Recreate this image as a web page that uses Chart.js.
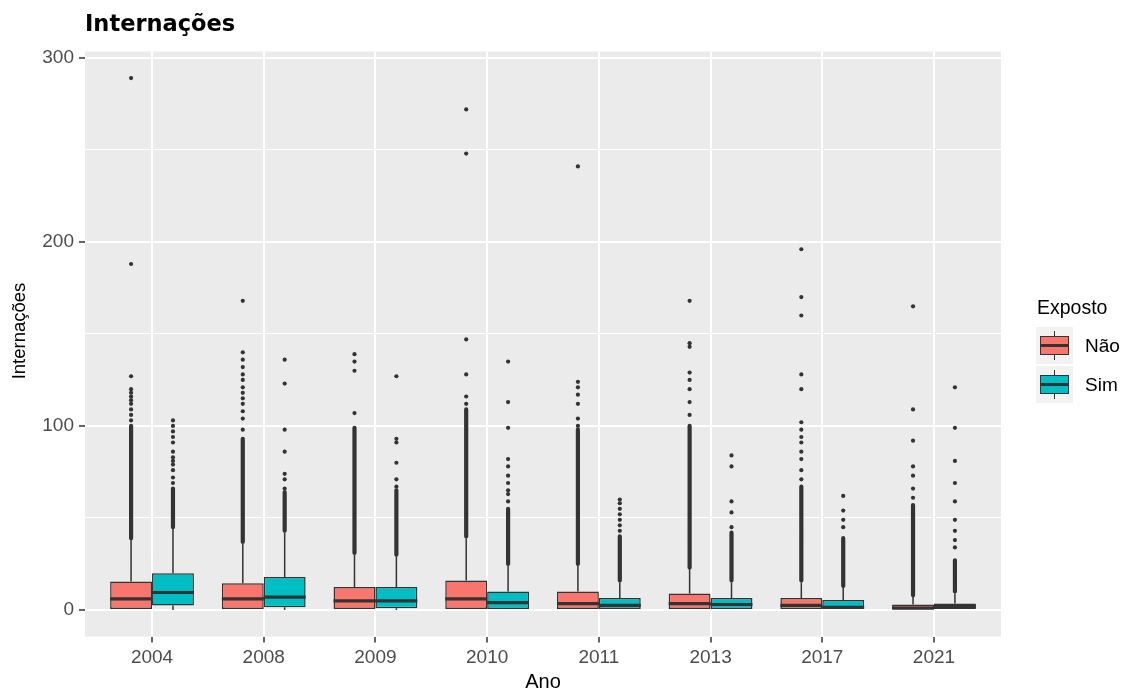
<!DOCTYPE html>
<html lang="pt">
<head>
<meta charset="utf-8">
<title>Internações</title>
<script src="https://cdn.jsdelivr.net/npm/chart.js@4.4.1/dist/chart.umd.min.js"></script>
<style>
  html, body { margin: 0; padding: 0; background: #ffffff; }
  #wrap { position: relative; width: 1125px; height: 694px; overflow: hidden;
          font-family: "Liberation Sans", Arial, sans-serif; }
  #chart { position: absolute; left: 0; top: 0; }
  #title { position: absolute; left: 85px; top: 12px; font-family: "DejaVu Sans", sans-serif;
           font-size: 22.5px; line-height: 22.5px; font-weight: bold; color: #000; white-space: nowrap; }
  #ytitle { position: absolute; left: -81px; top: 320px; width: 200px; height: 22px;
            font-size: 18.5px; line-height: 22px; text-align: center; color: #000;
            white-space: nowrap; transform: rotate(-90deg); transform-origin: 50% 50%; }
  #legend { position: absolute; left: 1036px; top: 295px; }
  .lg-title { font-size: 19.5px; line-height: 24px; color: #000; white-space: nowrap; margin: 0 0 7px 1px; }
  .lg-row { display: flex; align-items: center; height: 39px; }
  .lg-key { position: relative; width: 37px; height: 37px; background: #f2f2f2; flex: none; }
  .lg-key .wh { position: absolute; left: 17.7px; width: 1.6px; height: 5.6px; background: #333; }
  .lg-key .bx { position: absolute; left: 3.7px; top: 9.2px; width: 29.6px; height: 18.6px;
                box-sizing: border-box; border: 1.5px solid #333; }
  .lg-key .md { position: absolute; left: 3.7px; top: 17.4px; width: 29.6px; height: 2.2px; background: #333; }
  .lg-label { font-size: 19px; color: #000; margin-left: 12px; white-space: nowrap; }
</style>
</head>
<body>
<div id="wrap">
  <canvas id="chart" width="1125" height="694"></canvas>
  <div id="title">Internações</div>
  <div id="ytitle">Internações</div>
  <div id="legend"></div>
</div>
<script>
// Categories and groups
const years = ['2004', '2008', '2009', '2010', '2011', '2013', '2017', '2021'];
const groups = ['Não', 'Sim'];
const groupColors = ['#F8766D', '#00BFC4'];

// Box statistics, group "Não"
const naoLower  = [0, 0, 0, 0, 0, 0, 0, 0];
const naoQ1     = [0, 0, 0, 0, 0, 0, 0, 0];
const naoMedian = [6, 6, 5, 6, 3.5, 3.5, 2.5, 1];
const naoQ3     = [15.5, 14.5, 12.5, 16, 10, 9, 6.5, 3];
const naoUpper  = [38, 36, 30, 39, 24, 22, 15, 7];
// Outliers: a packed run of points from just above the whisker up to denseTop,
// plus the separate points above it
const naoDenseTop = [100, 93, 99, 109, 98, 100, 67, 57];
const naoOutliers = [
  [103, 106, 109, 112, 114, 116, 118, 120, 127, 188, 289],
  [98, 104, 108, 112, 115, 118, 121, 125, 128, 132, 136, 140, 168],
  [107, 130, 135, 139],
  [112, 116, 128, 147, 248, 272],
  [100, 104, 112, 117, 121, 124, 241],
  [106, 113, 120, 125, 129, 143, 145, 168],
  [71, 76, 82, 86, 91, 94, 98, 102, 120, 128, 160, 170, 196],
  [61, 66, 73, 78, 92, 109, 165]
];

// Box statistics, group "Sim"
const simLower  = [0, 0, 0, 0, 0, 0, 0, 0];
const simQ1     = [2.5, 1.5, 1, 0, 0, 0, 0, 0];
const simMedian = [9.5, 7, 5, 4, 2.5, 3, 1.5, 2];
const simQ3     = [20, 18, 12.5, 10, 6.5, 6.5, 5.5, 3.5];
const simUpper  = [44, 42, 29, 24, 15, 15, 12, 9];
const simDenseTop = [66, 64, 65, 55, 40, 42, 39, 27];
const simOutliers = [
  [69, 72, 76, 79, 81, 83, 86, 91, 94, 97, 100, 103],
  [66, 71, 74, 86, 98, 123, 136],
  [67, 71, 80, 91, 93, 127],
  [59, 63, 65, 69, 73, 78, 82, 99, 113, 135],
  [43, 46, 49, 52, 55, 58, 60],
  [45, 53, 59, 78, 84],
  [45, 49, 54, 62],
  [34, 38, 43, 49, 59, 69, 81, 99, 121]
];

// Y axis limits and tick step
const yMin = -14.45, yMax = 303.45, yStep = 50, yLabelStep = 100;

// ---------------------------------------------------------------------------
const FONT = '"Liberation Sans", Arial, sans-serif';
const INK = '#333333';
const DODGE = 0.1875;            // half of a box width in category units
const stats = [
  { lower: naoLower, q1: naoQ1, med: naoMedian, q3: naoQ3, upper: naoUpper, dense: naoDenseTop, out: naoOutliers, dx: -DODGE },
  { lower: simLower, q1: simQ1, med: simMedian, q3: simQ3, upper: simUpper, dense: simDenseTop, out: simOutliers, dx: DODGE }
];

// whisker, median and outlier-run segments, broken with null points
const whiskerPts = [];
const medianPts = [];
const densePts = [];
const outlierPts = [];
years.forEach((_, i) => {
  stats.forEach(s => {
    const x = i + s.dx;
    whiskerPts.push({ x, y: s.q3[i] }, { x, y: s.upper[i] }, { x, y: null });
    if (s.q1[i] > s.lower[i]) whiskerPts.push({ x, y: s.lower[i] }, { x, y: s.q1[i] }, { x, y: null });
    medianPts.push({ x: x - DODGE, y: s.med[i] }, { x: x + DODGE, y: s.med[i] }, { x: x + DODGE, y: null });
    densePts.push({ x, y: s.upper[i] + 1 }, { x, y: s.dense[i] }, { x, y: null });
    s.out[i].forEach(v => outlierPts.push({ x, y: v }));
  });
});

const boxDatasets = stats.map((s, g) => ({
  type: 'bar',
  label: groups[g],
  data: years.map((_, i) => ({ x: i, y: [s.q1[i], s.q3[i]] })),
  backgroundColor: groupColors[g],
  borderColor: INK,
  borderWidth: 1.5,
  borderSkipped: false,
  categoryPercentage: 0.75,
  barPercentage: 1,
  order: 3
}));

const panelBackground = {
  id: 'panelBackground',
  beforeDraw(chart) {
    const { ctx, chartArea: a } = chart;
    ctx.save();
    ctx.fillStyle = '#EBEBEB';
    ctx.fillRect(a.left, a.top, a.right - a.left, a.bottom - a.top);
    ctx.restore();
  }
};

new Chart(document.getElementById('chart'), {
  type: 'bar',
  data: {
    datasets: [
      ...boxDatasets,
      { type: 'line', label: 'whiskers', data: whiskerPts, borderColor: INK, borderWidth: 1.5,
        pointRadius: 0, spanGaps: false, tension: 0, order: 4 },
      { type: 'line', label: 'medians', data: medianPts, borderColor: INK, borderWidth: 3.2,
        borderCapStyle: 'butt', pointRadius: 0, spanGaps: false, tension: 0, order: 1 },
      { type: 'line', label: 'outliers-packed', data: densePts, borderColor: INK, borderWidth: 4.2,
        borderCapStyle: 'round', pointRadius: 0, spanGaps: false, tension: 0, order: 2 },
      { type: 'scatter', label: 'outliers', data: outlierPts, backgroundColor: INK, borderWidth: 0,
        pointRadius: 2.1, order: 2 }
    ]
  },
  options: {
    responsive: false,
    devicePixelRatio: 1,
    animation: false,
    events: [],
    layout: { padding: { left: 0, right: 124, top: 51.5, bottom: 0 } },
    plugins: { legend: { display: false }, tooltip: { enabled: false }, title: { display: false } },
    scales: {
      x: {
        type: 'linear',
        min: -0.6, max: 7.6,
        offset: false,
        afterFit: s => { s.height = 57.4; },
        border: { display: false },
        grid: { color: '#ffffff', lineWidth: 2, offset: false, tickColor: INK, tickLength: 6, tickWidth: 1.5 },
        ticks: {
          stepSize: 1, includeBounds: false, autoSkip: false, maxRotation: 0, minRotation: 0,
          padding: 3.5, color: '#4D4D4D', font: { family: FONT, size: 19 },
          callback: v => (years[v] !== undefined ? years[v] : '')
        },
        title: { display: true, text: 'Ano', color: '#000000', font: { family: FONT, size: 20 },
                 padding: { top: 0, bottom: 0 } }
      },
      y: {
        min: yMin, max: yMax,
        afterFit: s => { s.width = 85; },
        border: { display: false },
        grid: {
          color: '#ffffff',
          lineWidth: c => (c.tick && c.tick.value % yLabelStep === 0 ? 2 : 1),
          tickColor: c => (c.tick && c.tick.value % yLabelStep === 0 ? INK : 'rgba(0,0,0,0)'),
          tickLength: 6, tickWidth: 1.5
        },
        ticks: {
          stepSize: yStep, includeBounds: false, padding: 5, color: '#4D4D4D',
          font: { family: FONT, size: 19 },
          callback: v => (v % yLabelStep === 0 ? String(v) : '')
        },
        title: { display: false }
      }
    }
  },
  plugins: [panelBackground]
});

// Legend: title and one boxplot key per group
const legend = document.getElementById('legend');
const lgTitle = document.createElement('div');
lgTitle.className = 'lg-title';
lgTitle.textContent = 'Exposto';
legend.appendChild(lgTitle);
groups.forEach((name, g) => {
  const row = document.createElement('div');
  row.className = 'lg-row';
  row.innerHTML =
    '<div class="lg-key">' +
      '<div class="wh" style="top:3.7px"></div>' +
      '<div class="bx" style="background:' + groupColors[g] + '"></div>' +
      '<div class="md"></div>' +
      '<div class="wh" style="top:27.7px"></div>' +
    '</div>' +
    '<span class="lg-label"></span>';
  row.querySelector('.lg-label').textContent = name;
  legend.appendChild(row);
});
</script>
</body>
</html>
